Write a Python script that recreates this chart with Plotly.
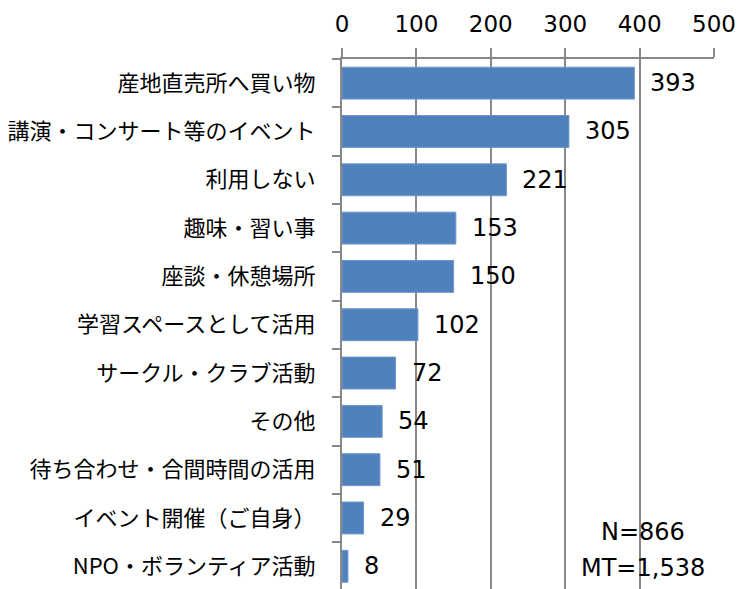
import plotly.graph_objects as go

categories = ["産地直売所へ買い物", "講演・コンサート等のイベント", "利用しない", "趣味・習い事",
              "座談・休憩場所", "学習スペースとして活用", "サークル・クラブ活動", "その他",
              "待ち合わせ・合間時間の活用", "イベント開催（ご自身）", "NPO・ボランティア活動"]
values = [393, 305, 221, 153, 150, 102, 72, 54, 51, 29, 8]
x_ticks = [0, 100, 200, 300, 400, 500]
note_lines = ["N=866", "MT=1,538"]

GRID = "#888888"
NUMFONT = "Verdana, DejaVu Sans, sans-serif"

fig = go.Figure()
fig.add_trace(go.Bar(
    x=values, y=categories, orientation="h",
    marker=dict(color="#4F81BD", line=dict(color="#7096C8", width=1)),
    width=0.66, hoverinfo="skip",
))

annotations = []
for c, v in zip(categories, values):
    annotations.append(dict(x=v, y=c, xref="x", yref="y", text=str(v),
                            showarrow=False, xanchor="left", xshift=14,
                            font=dict(family=NUMFONT, size=24, color="black")))
annotations.append(dict(x=0.809, y=0.1075, xref="paper", yref="paper", text=note_lines[0],
                        showarrow=False, xanchor="center", yanchor="middle",
                        font=dict(family=NUMFONT, size=24, color="black")))
annotations.append(dict(x=0.809, y=0.0396, xref="paper", yref="paper", text=note_lines[1],
                        showarrow=False, xanchor="center", yanchor="middle",
                        font=dict(family=NUMFONT, size=24, color="black")))

fig.update_layout(
    width=739, height=589,
    margin=dict(l=342, r=25, t=59, b=0, pad=0),
    plot_bgcolor="white", paper_bgcolor="white",
    showlegend=False,
    annotations=annotations,
    xaxis=dict(side="top", range=[0, 500], tickvals=x_ticks,
               ticktext=[str(t) for t in x_ticks], automargin=False,
               showgrid=True, gridcolor=GRID, gridwidth=2,
               showline=True, linecolor=GRID, linewidth=2,
               ticks="outside", ticklen=9, tickwidth=2, tickcolor=GRID,
               ticklabelstandoff=7, zeroline=False,
               tickfont=dict(family=NUMFONT, size=23, color="black")),
    yaxis=dict(type="category", categoryorder="array", categoryarray=categories,
               range=[10.47, -0.5], automargin=False,
               showline=True, linecolor=GRID, linewidth=2,
               ticks="outside", ticklen=8, tickwidth=2, tickcolor=GRID,
               tickson="boundaries", showgrid=False, ticklabelstandoff=20,
               tickfont=dict(family="Meiryo, Noto Sans CJK JP, sans-serif", size=22, color="black")),
)

fig.write_html("out.html", config={"displayModeBar": False, "staticPlot": True},
               post_script="document.body.style.margin='0';document.body.style.overflow='hidden';")
